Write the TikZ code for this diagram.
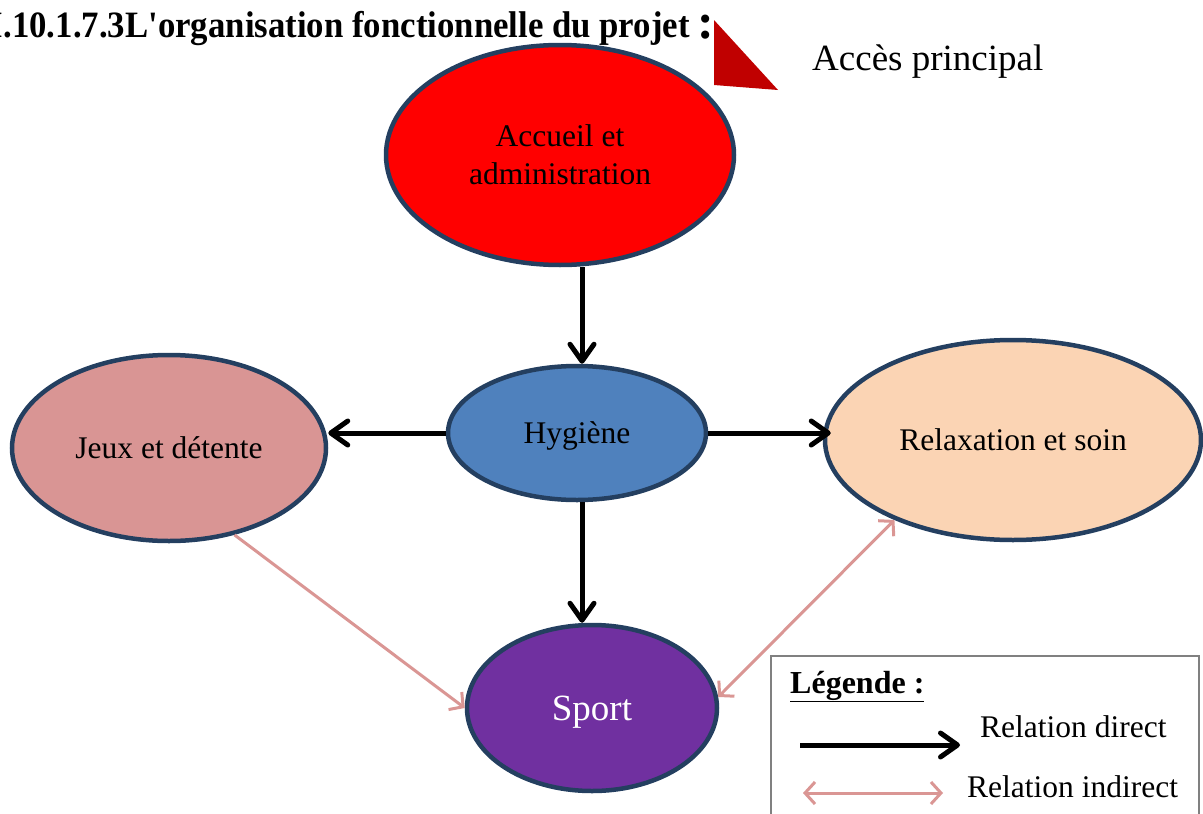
\documentclass[tikz,border=0pt]{standalone}
\usepackage{fontspec}
\setmainfont{Liberation Serif}
\newfontfamily\titlefont[FakeStretch=0.935]{Liberation Serif}
\usetikzlibrary{shapes.geometric,arrows.meta}
\definecolor{bord}{HTML}{243F60}
\definecolor{cacc}{HTML}{FF0000}
\definecolor{chyg}{HTML}{4F81BD}
\definecolor{cjeux}{HTML}{D99594}
\definecolor{crelax}{HTML}{FBD4B4}
\definecolor{csport}{HTML}{7030A0}
\definecolor{cpink}{HTML}{DA9694}
\definecolor{ctri}{HTML}{C00000}
\tikzset{
  zone/.style={ellipse, draw=bord, line width=4.5pt, inner sep=0pt, align=center,
    text depth=0pt, font=\fontsize{31.5}{38}\selectfont},
  direct/.style={line width=5pt, black,
    -{Straight Barb[length=17pt,width=24pt,line cap=round,line join=round]}},
  indirect/.style={line width=3pt, cpink,
    -{Straight Barb[length=10pt,width=22pt]}},
  indirect2/.style={line width=3pt, cpink,
    {Straight Barb[length=10pt,width=22pt]}-{Straight Barb[length=10pt,width=22pt]}},
}
\begin{document}
\begin{tikzpicture}[x=1pt,y=-1pt]
\useasboundingbox (0,0) rectangle (1203,814);
% title
\node[anchor=base east, inner sep=0pt, font=\titlefont\fontsize{37.2}{42}\selectfont\bfseries] (title) at (690,37) {I.10.1.7.3L\char"27 organisation fonctionnelle du projet};
\node[anchor=base west, inner sep=0pt, font=\fontsize{50}{56}\selectfont\bfseries] (colon) at (697,38) {:};
% red triangle
\fill[ctri] (714,20) -- (714,85) -- (778,90) -- cycle;
\node[anchor=base west, inner sep=0pt, font=\fontsize{37}{44}\selectfont] (acces) at (812,70) {Accès principal};
% zones
\node[zone, fill=cacc, minimum width=348pt, minimum height=220pt] (acc) at (560,155) {Accueil et\\administration};
\node[zone, fill=chyg, minimum width=258pt, minimum height=134pt] (hyg) at (577,433) {Hygiène};
\node[zone, fill=cjeux, minimum width=314pt, minimum height=186pt] (jeux) at (169,448) {Jeux et détente};
\node[zone, fill=crelax, minimum width=376pt, minimum height=200pt] (relax) at (1013,440) {Relaxation et soin};
\node[zone, fill=csport, minimum width=250pt, minimum height=166pt, text=white, font=\fontsize{37}{44}\selectfont] (sport) at (592,708) {Sport};
% connectors
\coordinate (vx) at (582,0);
\draw[direct] (acc.south -| vx) -- (hyg.north -| vx);
\draw[direct] (hyg.south -| vx) -- (sport.north -| vx);
\draw[direct] (hyg.west) -- (jeux.east |- hyg.west);
\draw[direct] (hyg.east) -- ([xshift=8pt]relax.west |- hyg.east);
\draw[indirect] (jeux.-53) -- (sport.west);
\draw[indirect2] (relax.214) -- (sport.5);
% legend
\node[draw=gray, line width=1.5pt, minimum width=428pt, minimum height=180pt, anchor=north west] (leg) at (770,655) {};
\node[anchor=base west, inner sep=0pt, font=\fontsize{32}{38}\selectfont\bfseries] (legt) at (790,693) {\underline{Légende :}};
\coordinate (d1) at (800,745);
\coordinate (d2) at (960,745);
\draw[direct] (d1) -- (d2);
\node[anchor=base west, inner sep=0pt, font=\fontsize{31.5}{38}\selectfont] (ldir) at (980,737) {Relation direct};
\coordinate (i1) at (803,793);
\coordinate (i2) at (943,793);
\draw[indirect2] (i1) -- (i2);
\node[anchor=base west, inner sep=0pt, font=\fontsize{31.5}{38}\selectfont] (lind) at (967,797) {Relation indirect};
\end{tikzpicture}
\end{document}
